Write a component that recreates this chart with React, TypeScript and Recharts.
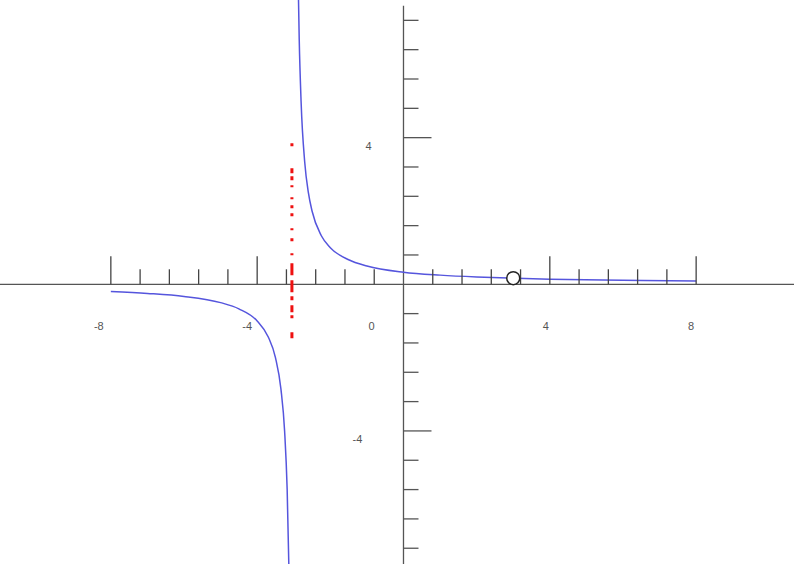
import React from 'react'
import {
  ComposedChart,
  Line,
  ReferenceDot,
  ReferenceLine,
  Scatter,
  XAxis,
  YAxis,
} from 'recharts'

// left branch of the curve (below the x axis, left of the asymptote)
const leftX = [-8, -7, -6, -5, -4.5, -4, -3.7, -3.5, -3.35, -3.25, -3.18, -3.12]
const leftY = [-0.2, -0.25, -0.33, -0.5, -0.67, -1, -1.43, -2, -2.86, -4, -5.6, -8.3]

// right branch of the curve
const rightX = [-2.88, -2.85, -2.8, -2.7, -2.6, -2.5, -2.25, -2, -1.5, -1, 0, 1, 2, 3, 4, 6, 8]
const rightY = [8.3, 6.67, 5, 3.33, 2.5, 2, 1.33, 1, 0.67, 0.5, 0.33, 0.25, 0.2, 0.167, 0.14, 0.11, 0.09]

// open circle (hole) on the curve
const holeX = [3]
const holeY = [0.167]

// vertical asymptote sketched in red
const asymptoteX = -3.05
const asymptoteTop = 3.85
const asymptoteBottom = -1.52

const xTicks = [
  -8, -7.2, -6.4, -5.6, -4.8, -4, -3.2, -2.4, -1.6, -0.8,
  0.8, 1.6, 2.4, 3.2, 4, 4.8, 5.6, 6.4, 7.2, 8,
]
const yTicks = [
  -7.2, -6.4, -5.6, -4.8, -4, -3.2, -2.4, -1.6, -0.8,
  0.8, 1.6, 2.4, 3.2, 4, 4.8, 5.6, 6.4, 7.2,
]
const xMajor = [-8, -4, 4, 8]
const yMajor = [-4, 4]
const xLabels = [-8, -4, 0, 4, 8]
const yLabels = [4, -4]

const xDomain: [number, number] = [-11.03, 10.675]
const yDomain: [number, number] = [-7.63, 7.755]
const yAxisTop = 7.6

const toPoints = (xs: number[], ys: number[]) => xs.map((x, i) => ({ x, y: ys[i] }))

const leftData = toPoints(leftX, leftY)
const rightData = toPoints(rightX, rightY)
const holeData = toPoints(holeX, holeY)

const xLabelNudge: Record<string, number> = { '-8': -12, '-4': -10, '0': -32, '4': -4, '8': -5 }
const yLabelNudge: Record<string, number> = { '4': -35, '-4': -46 }

const labelStyle = { fontFamily: 'Liberation Sans, Arial, sans-serif', fontSize: 11, fill: '#555' }

// hand drawn look of the red asymptote
const sketchDash = '3 22 5 3 4 5 2 10 2 6 3 5 3 12 2 8 3 12 2 8 12 5 12 4 4 5 7 3 3 14 6 40'

export default function App() {
  return (
    <div style={{ position: 'absolute', left: 0, top: 0, background: '#fff' }}>
      <ComposedChart width={794} height={564} margin={{ top: 0, right: 0, bottom: 0, left: 0 }}>
        <XAxis type="number" dataKey="x" domain={xDomain} allowDataOverflow hide />
        <YAxis type="number" dataKey="y" domain={yDomain} allowDataOverflow hide width={0} />

        <ReferenceLine y={0} stroke="#555" strokeWidth={1.3} />
        <ReferenceLine
          segment={[
            { x: 0, y: yAxisTop },
            { x: 0, y: yDomain[0] },
          ]}
          stroke="#555"
          strokeWidth={1.3}
        />

        {xTicks.map((t) => (
          <ReferenceDot
            key={`xt${t}`}
            x={t}
            y={0}
            shape={(p: any) => (
              <line
                x1={p.cx}
                x2={p.cx}
                y1={p.cy}
                y2={p.cy - (xMajor.includes(t) ? 28 : 15)}
                stroke="#444"
                strokeWidth={1.3}
              />
            )}
          />
        ))}
        {yTicks.map((t) => (
          <ReferenceDot
            key={`yt${t}`}
            x={0}
            y={t}
            shape={(p: any) => (
              <line
                x1={p.cx}
                x2={p.cx + (yMajor.includes(t) ? 28 : 15)}
                y1={p.cy}
                y2={p.cy}
                stroke="#555"
                strokeWidth={1.3}
              />
            )}
          />
        ))}

        {xLabels.map((t) => (
          <ReferenceDot
            key={`xl${t}`}
            x={t}
            y={0}
            shape={(p: any) => (
              <text
                x={p.cx + xLabelNudge[String(t)]}
                y={p.cy + 42}
                textAnchor="middle"
                dominantBaseline="central"
                {...labelStyle}
              >
                {t}
              </text>
            )}
          />
        ))}
        {yLabels.map((t) => (
          <ReferenceDot
            key={`yl${t}`}
            x={0}
            y={t}
            shape={(p: any) => (
              <text
                x={p.cx + yLabelNudge[String(t)]}
                y={p.cy + 8}
                textAnchor="middle"
                dominantBaseline="central"
                {...labelStyle}
              >
                {t}
              </text>
            )}
          />
        ))}

        <ReferenceLine
          segment={[
            { x: asymptoteX, y: asymptoteTop },
            { x: asymptoteX, y: asymptoteBottom },
          ]}
          stroke="#ee1111"
          strokeWidth={3}
          strokeDasharray={sketchDash}
        />

        <Line
          data={leftData}
          dataKey="y"
          type="monotone"
          stroke="#5555dd"
          strokeWidth={1.5}
          dot={false}
          activeDot={false}
          isAnimationActive={false}
        />
        <Line
          data={rightData}
          dataKey="y"
          type="monotone"
          stroke="#5555dd"
          strokeWidth={1.5}
          dot={false}
          activeDot={false}
          isAnimationActive={false}
        />
        <Scatter
          data={holeData}
          dataKey="y"
          isAnimationActive={false}
          shape={(p: any) => (
            <circle cx={p.cx} cy={p.cy} r={6.5} fill="#fff" stroke="#222" strokeWidth={1.5} />
          )}
        />
      </ComposedChart>
    </div>
  )
}
